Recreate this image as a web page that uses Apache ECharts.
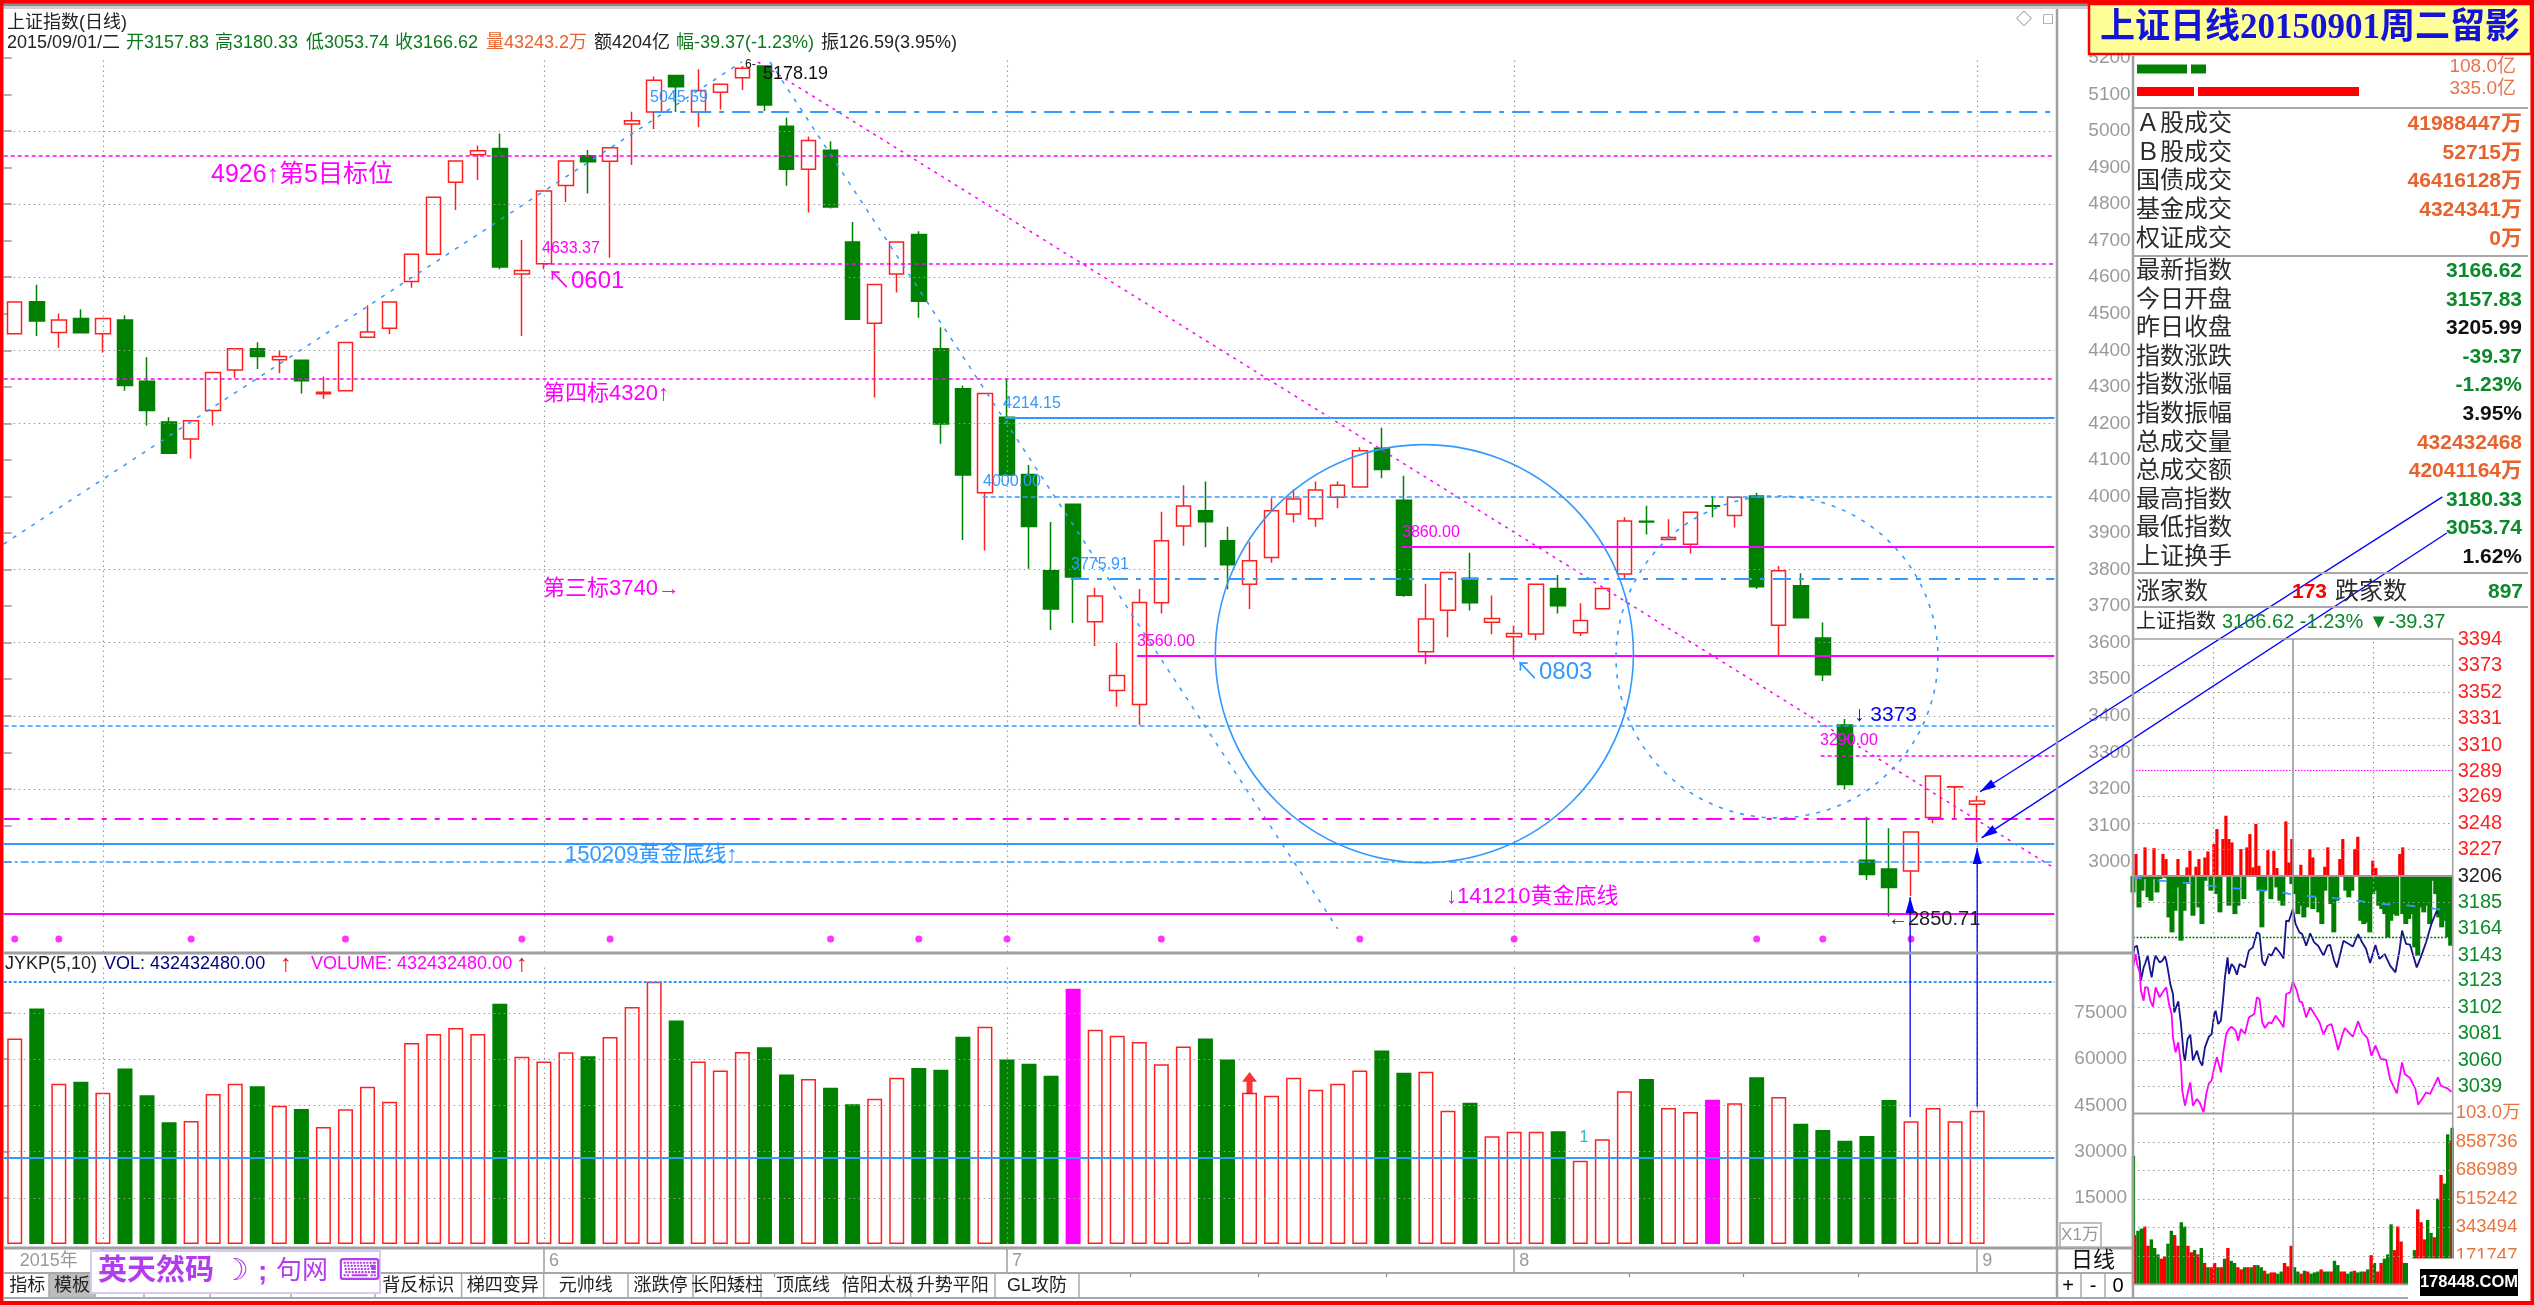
<!DOCTYPE html>
<html><head><meta charset="utf-8">
<script src="https://cdn.jsdelivr.net/npm/echarts@6/dist/echarts.min.js"></script>
<style>html,body{margin:0;padding:0;background:#fff}#c{width:2534px;height:1305px}</style>
</head><body><div id="c"></div>
<script>
// ---- daily candles, 90 sessions ----
const opens=[4445,4533,4449,4487,4445,4483,4315,4204,4157,4235,4346,4404,4374,4373,4281,4289,4436,4460,4588,4663,4860,4935,4952,4609,4637,4851,4932,4917,5019,5052,5152,5052,5106,5146,5178,5013,4895,4947,4696,4474,4609,4717,4404,4295,4010,4217,4060,3797,3979,3657,3469,3431,3709,3919,3961,3879,3760,3833,3952,3939,3998,4026,4132,3990,3575,3689,3776,3656,3616,3624,3748,3627,3693,3788,3932,3882,3869,3975,3948,4001,3648,3756,3613,3375,3005,2981,2975,3122,3205,3157.83];
const highs=[4532,4579,4501,4512,4487,4496,4381,4217,4207,4339,4404,4422,4398,4373,4328,4421,4523,4532,4663,4819,4918,4960,4993,4702,4836,4918,4948,4954,5053,5149,5152,5169,5128,5178,5178.19,5037,4985,4972,4751,4580,4696,4726,4463,4304,4282,4323,4086,3930,3979,3750,3600,3747,3958,4031,4041,3917,3876,3995,4020,4041,4041,4135,4188,4057,3761,3792,3846,3729,3646,3760,3785,3708,3748,3943,3975,3938,3957,4001,3998,4010,3810,3790,3655,3391,3124,3092,3082,3235,3206,3180.33];
const lows=[4445,4439,4407,4448,4394,4289,4194,4116,4103,4194,4325,4349,4337,4282,4267,4289,4436,4444,4571,4663,4784,4866,4622,4439,4622,4806,4829,4653,4907,5005,5052,5010,5059,5112,5055,4850,4777,4788,4485,4271,4558,4489,4144,3881,3852,4059,3802,3635,3654,3591,3425,3375,3680,3865,3861,3746,3692,3819,3929,3917,3968,4026,4050,3726,3541,3615,3688,3623,3553,3607,3680,3618,3693,3776,3896,3881,3844,3943,3915,3747,3563,3668,3495,3197,2951,2851,2907,3106,3115,3053.74];
const closes=[4532,4480,4483,4448,4487,4304,4235,4118,4207,4339,4404,4383,4383,4317,4285,4421,4450,4532,4663,4819,4918,4946,4628,4618,4836,4918,4916,4954,5028,5139,5121,5111,5128,5172,5071,4895,4974,4792,4485,4580,4696,4534,4198,4059,4282,4059,3918,3692,3780,3728,3510,3710,3879,3974,3931,3813,3824,3961,3993,4018,4031,4125,4074,3730,3665,3792,3709,3666,3625,3760,3701,3661,3748,3933,3930,3888,3957,3973,3998,3753,3797,3668,3512,3212,2966,2930,3082,3235,3206,3166.62];
const volumes=[66760,76500,52040,52700,49120,57020,48260,39490,39930,48690,52040,51180,44900,43820,37980,43710,51070,46200,65240,68170,70110,68170,78010,60810,59290,62220,60920,67190,76930,85150,72600,59290,56370,62320,63840,55070,53560,50750,45340,47180,53990,57130,56590,67300,70550,59940,58540,54640,82880,69570,67625,65570,58320,64160,66760,59940,49120,48150,53990,50100,52040,56370,62860,55610,55940,43280,45880,34950,36460,36460,36570,27050,33970,49560,53560,44150,42850,46850,45660,54100,47720,39060,37000,33540,35060,46740,39820,44150,39820,43243];
const highlightVolumeDays=[48,77];
const markerDays=[0,2,8,15,23,27,37,41,45,52,61,68,79,82,86];
const markerLevel=2789;
const categoryCount=93;

// ---- axis ticks ----
const priceLabels=[5200,5100,5000,4900,4800,4700,4600,4500,4400,4300,4200,4100,4000,3900,3800,3700,3600,3500,3400,3300,3200,3100,3000];
const priceMinorTicks=[5150,5050,4950,4850,4750,4650,4550,4450,4350,4250,4150,4050,3950,3850,3750,3650,3550,3450,3350,3250,3150,3050];
const priceGridLevels=[5000,4800,4600,4400,4200,3800,3600,3400,3200];
const volumeLabels=[15000,30000,45000,60000,75000];
const volumeMinorTicks=[7500,22500,37500,52500,67500,82500];
const monthLines=[4.5,24.5,45.5,68.5,89.5];
const timeLabels=['2015年','6','7','8','9'];
const timeLabelPlaces=[0.5,24.5,45.5,68.5,89.5];
const timeMinorTicks=[9.5,14.5,19.5,29.67,34.93,40.15,51.1,56.9,62.7,73.7,78.9,84.1];

// ---- drawn price levels ----
const levelValues=[5053,4933,4638,4321,4216,4000,3862,3776,3563,3374,3292,3119,3049,3000,2857];
const levelStarts=[29.5,0,24.5,0,45.4,44.4,63.4,48.4,51.4,0,82.4,0,0,0,0];
const levelKinds=['blueDashDot','pinkDash','pinkDash','pinkDash','blueSolid','blueDash','pinkSolid','blueDashDot','pinkSolid','blueDash','pinkDash','pinkDashDot','blueSolid','blueDotDash','pinkSolid'];
const volumeTopLevel=85150, volumeMidLevel=28020;

// ---- drawn trend lines and circles (session, price) ----
const riseLine=[[0,3870],[33.48,5189]];
const fallLine=[[34.75,5189],[60.5,2817]];
const longFallLine=[[34.2,5189],[93,2983]];
const solidCircle=[64.43,3570,9.48];
const dashedCircle=[80.42,3561,7.30];
const arrowRows=[[110.6,3999,89.63,3192],[110.8,3900,89.7,3066],[86.46,2302,86.46,2904],[89.5,2330,89.5,3038]];

// ---- intraday ----
const indexMinutes=[0,1,3,5,6,8,9,11,13,14,16,17,20,22,24,25,27,28,30,31,34,36,38,39,41,43,45,48,50,52,54,57,59,61,62,64,66,68,69,71,72,74,76,78,80,84,87,90,93,95,97,99,102,104,107,110,113,115,117,120,122,125,127,130,133,136,139,143,146,148,151,153,155,158,162,165,169,172,175,178,182,185,189,193,197,200,202,205,208,213,216,220,224,228,229];
const indexValues=[3141.5,3149.4,3150.7,3138.8,3123,3133.5,3136.2,3142.8,3130.9,3125.6,3138.8,3142.8,3137.5,3138.8,3142.3,3138.8,3126.9,3120.3,3112.4,3097.8,3106.6,3088.6,3064.7,3059.4,3076.7,3080.1,3059.4,3067.4,3059.4,3055.5,3070,3078.5,3080.6,3096.5,3099.1,3088.6,3091.2,3112.4,3125.6,3141.5,3128.3,3136.2,3133.5,3127.7,3136.2,3133.5,3146.8,3149.4,3161.3,3160,3138.8,3134.9,3144.1,3142.8,3149.4,3145.5,3140.7,3170.6,3170.1,3179.9,3168,3161.3,3160,3150.7,3160.5,3153.4,3150.7,3142.8,3150.7,3151.3,3138.8,3133.5,3141.5,3154.7,3152.1,3150,3160,3153.4,3148.1,3137,3151.3,3140.2,3144.1,3134.9,3129.6,3146.8,3162.7,3152.1,3151.5,3133.5,3141.5,3153.4,3168,3178.5,3175.9];
const shadowMinutes=[0,2,3,5,6,8,9,11,13,15,17,20,23,25,27,29,30,32,34,36,37,39,42,43,45,48,50,53,55,57,59,61,63,66,68,70,72,74,77,79,81,84,87,91,93,95,97,99,102,104,107,110,113,115,118,120,123,125,127,130,133,137,140,143,146,149,152,154,157,159,162,165,169,172,176,179,182,186,190,193,198,202,204,208,212,214,217,220,223,229,231,236,239];
const shadowValues=[3133.5,3144.1,3136.2,3129.6,3115,3107.1,3117.7,3117.7,3107.1,3102.3,3117.7,3109.7,3115,3117.7,3104.4,3096.5,3078,3066.1,3074,3056.8,3035.6,3023.7,3038.3,3042.2,3023.7,3029,3026.4,3018.4,3033,3041.5,3043.6,3054.2,3062.1,3050.2,3067.4,3080.6,3084.6,3086.4,3083.3,3075.3,3084.6,3080.6,3093.8,3096.5,3109.7,3108.4,3089.9,3085.4,3089.9,3089.1,3095.2,3091.2,3085.9,3112.4,3113.7,3122.4,3115,3106.5,3105.8,3093.8,3101.8,3095.2,3089.9,3080.1,3087.2,3088.6,3076.7,3067.9,3079.3,3085.4,3082,3078.5,3090.7,3082,3077.4,3063.4,3071.4,3060.8,3060,3044.9,3033.5,3058.1,3048.9,3045.7,3037,3024.5,3029,3034.3,3033,3046.2,3039.6,3037.5,3034.8];
const averageMinutes=[0,8,18,30,35,45,57,63,73,85,99,113,117,125,137,144,153,165,172,180,195,208,219,226,234];
const averageValues=[3205,3203.7,3202.4,3201.8,3201,3200.2,3198.4,3197.6,3196.5,3195.5,3194.4,3192.8,3191.8,3191,3189.6,3189.1,3188.3,3186.5,3186,3184.4,3183.3,3182.5,3180.9,3180.1,3179.3];
const breadthUp=[0,17.5,0,0,22.8,0,0,22.2,0,0,17.5,13.5,0,0,0,13.5,0,0,6.9,20.1,0,7.4,13.5,0,14.8,19.6,0,25.4,37.3,0,29.4,47.9,29.4,26.7,0,0,21.4,0,22.8,33.3,6.9,41.3,8.2,0,0,20.6,0,20.1,6.4,0,0,43.4,10.8,29.4,0,0,9,0,0,21.4,14.8,0,0,0,7.4,22.8,0,0,0,13.5,29.4,0,0,0,21.4,31.2,0,0,0,0,12.2,6.4,0,0,0,0,0,0,0,17.5,22.8,0,0,0,0,0,0,0,0,0,0,0,0,0,0,0,0];
const breadthDown=[13,1.6,24.9,11.6,2.4,16.9,19.6,2.4,13,2.4,0,1.6,32.8,44.7,27.5,9,51.3,27.5,5,0,31.5,0,24.9,38.1,3.7,0,11.6,0,14.3,28.8,0,0,23.5,0,30.2,23.5,0,18.3,0,0,0,0,11.6,40.7,11.6,0,18.3,0,9,19.6,23.5,0,0,6.4,14.3,30.2,23.5,32.8,24.9,0,26.2,16.9,28.8,38.1,11.6,0,22.2,44.7,19.6,0,0,11.6,16.9,11.6,0,0,35.5,38.1,36.8,44.7,14.3,11.6,23.5,26.2,30.2,48.7,35.5,30.2,31.5,0,30.2,38.1,34,30.2,56.6,63.2,24.9,28.8,23.5,38.1,3.7,14.3,32.8,40.7,35.5,48.7,55.3];
const intradayPriceLabels=[3394,3373,3352,3331,3310,3289,3269,3248,3227,3206,3185,3164,3143,3123,3102,3081,3060,3039];
const intradayVolumes=[775500,297300,323100,336100,349000,232700,271400,219700,181000,155100,168000,245600,323100,297300,232700,374800,349000,232700,193900,206800,181000,219700,129300,103400,103400,129300,103400,103400,155100,219700,142200,129300,103400,90500,103400,103400,103400,116300,116300,103400,82700,64600,72400,72400,64600,77600,129300,108600,232700,103400,77600,64600,82700,77600,64600,72400,77600,90500,77600,77600,77600,142200,116300,77600,77600,64600,77600,82700,72400,77600,77600,90500,175800,129300,77600,129300,155100,181000,361900,206800,349000,258500,129300,129300,155100,206800,452400,374800,271400,387800,310200,284400,517000,659200,607500,904800,866000,943500];
const intradayVolumeSides='GRGGRRGGGRRGGRRGGRRGRGRGRRGRGRGGRRGRGRGGRGRRGGRRRGGRGRGGGRGGRGGRRGGRGGRGRGRRGGGRRRGGGGRRRGGRGRGGR';
const intradayVolumeLabels=[1030482,858736,686989,515242,343494,171747];
const intradayRefHigh=3290, intradayRefOpen=3157.83;
const intradayVLines=[60,180];

// ---- side panel ----
const sideRows=[
 ['Ａ股成交','41988447万','o'],['Ｂ股成交','52715万','o'],['国债成交','46416128万','o'],['基金成交','4324341万','o'],['权证成交','0万','o'],
 ['最新指数','3166.62','g'],['今日开盘','3157.83','g'],['昨日收盘','3205.99','k'],['指数涨跌','-39.37','g'],['指数涨幅','-1.23%','g'],['指数振幅','3.95%','k'],
 ['总成交量','432432468','o'],['总成交额','42041164万','o'],['最高指数','3180.33','g'],['最低指数','3053.74','g'],['上证换手','1.62%','k']];
const tabNames=['指标','模板','','','','三线参考','背反标识','梯四变异','元帅线','涨跌停','长阳矮柱','顶底线','倍阳太极','升势平阳','GL攻防'];
const tabEdges=[5.6,49,95,144,210,291,375,461.6,543.7,628,693,761,845,910.6,995,1079,1144.4];

// ---- styles and layout ----
const BLUE='#3399ff',PINK='#ff00ff',RED='#ff2020',GREEN='#008000',GREY='#999999',ORANGE='#e8622c';
const SANS='"Liberation Sans","Noto Sans CJK SC",sans-serif';
const levelStyles={
 blueDashDot:{color:BLUE,width:2,type:[18,8,5,8]},
 blueDash:{color:BLUE,width:1.6,type:[5,3]},
 blueDotDash:{color:BLUE,width:1.6,type:[8,3,3,3]},
 blueSolid:{color:BLUE,width:2,type:'solid'},
 pinkDash:{color:PINK,width:1.6,type:[4,3]},
 pinkDashDot:{color:PINK,width:2,type:[16,8,5,8]},
 pinkSolid:{color:PINK,width:2,type:'solid'}};
const dotted={color:GREY,width:1.2,type:[1.5,3.5]};
const L=3.7,W=categoryCount*22.05;
const MAIN={left:L,top:57.9,width:W,height:894.1};
const VOL={left:L,top:966.8,width:W,height:277.2};
const STRIP={left:L,top:1248,width:W,height:25};
const DAY={left:2133,top:639,width:319.7,height:474.4};
const DAYV={left:2133,top:1113.4,width:319.7,height:171};
const PRICE_MIN=2753.7,PRICE_MAX=5200,VOL_MAX=90000;
const cats=Array.from({length:categoryCount},(_,i)=>String(i));
const zip=(a,b)=>a.map((v,i)=>[v,b[i]]);
const hid=(o)=>Object.assign({show:false},o);
const plain=(v)=>String(v);

const daySeries=closes.map((c,i)=>[opens[i],c,lows[i],highs[i]]);
const volumeBars=volumes.map((v,i)=>{
  const st=highlightVolumeDays.includes(i)?{color:PINK,borderColor:PINK}
    :closes[i]>=opens[i]?{color:'#fff',borderColor:RED}:{color:GREEN,borderColor:GREEN};
  return {value:v,itemStyle:Object.assign({borderWidth:1.5},st)};
});
const levelLines=levelValues.map((v,i)=>[{coord:[levelStarts[i],v],lineStyle:levelStyles[levelKinds[i]]},{coord:[categoryCount,v]}]);
const dayPitch=2.25;
const breadthRow=(arr)=>arr.map((v,i)=>[i*dayPitch,v]).filter(r=>r[1]>0);
const tickVolBars=intradayVolumes.map((v,i)=>{
  const m=i===0?0.3:i===97?239.6:1.25+2.5*(i-1);
  return {value:[m,v],itemStyle:{color:intradayVolumeSides[i]==='R'?'#ff0000':GREEN}};
});

function barRender(sign,color,bw){
  return function(params,api){
    const a=api.coord([api.value(0),3206]),b=api.coord([api.value(0),3206+sign*api.value(1)]);
    return {type:'rect',shape:{x:a[0]-bw/2,y:Math.min(a[1],b[1]),width:bw,height:Math.abs(a[1]-b[1])},style:{fill:color}};
  };
}
function circleRender(params,api){
  const c=api.coord([api.value(0),api.value(1)]),r=api.size([api.value(2),0])[0];
  const dashed=api.value(3)===1;
  return {type:'circle',shape:{cx:c[0],cy:c[1],r},style:{fill:'none',stroke:BLUE,lineWidth:1.6,lineDash:dashed?[4,7]:null}};
}
function arrowRender(params,api){
  const a=api.coord([api.value(0),api.value(1)]),b=api.coord([api.value(2),api.value(3)]);
  const ang=Math.atan2(b[1]-a[1],b[0]-a[0]),len=16,w=4.5;
  const bx=b[0]-len*Math.cos(ang),by=b[1]-len*Math.sin(ang);
  const px=-Math.sin(ang)*w,py=Math.cos(ang)*w;
  return {type:'group',children:[
    {type:'line',shape:{x1:a[0],y1:a[1],x2:b[0],y2:b[1]},style:{stroke:'#0000ff',lineWidth:1.3}},
    {type:'polygon',shape:{points:[[b[0],b[1]],[bx+px,by+py],[bx-px,by-py]]},style:{fill:'#0000ff'}}]};
}

// ---- page furniture ----
const T=(x,y,text,o)=>{o=o||{};return {type:'text',z:100,silent:true,style:{x,y,text,fill:o.c||'#000',
  font:(o.w?o.w+' ':'')+(o.s||18)+'px '+(o.f||SANS),textAlign:o.a||'left',textVerticalAlign:'middle'}};};
const R=(x,y,w,h,fill,stroke,lw)=>({type:'rect',z:100,silent:true,shape:{x,y,width:w,height:h},style:{fill:fill||'none',stroke:stroke||null,lineWidth:lw||1}});
const H=(x1,x2,y,c,lw)=>R(x1,y-(lw||2)/2,x2-x1,lw||2,c||'#a8a8a8');
const V=(x,y1,y2,c,lw)=>R(x-(lw||2)/2,y1,lw||2,y2-y1,c||'#a8a8a8');
const rowColors={o:ORANGE,g:'#0a8a2a',k:'#111'};
const furniture=[];
const add=(...e)=>furniture.push(...e);
add(R(0,3,2534,3,'#8a8a8a'),R(0,6,2534,3,'#d0d0d0'));
add(H(4,2133,953,'#a0a0a0',3),H(4,2133,1248,'#a0a0a0',3),H(4,2133,1273,'#a8a8a8',2),H(4,2530,1298,'#a8a8a8',2));
add(V(2057,9,1298,'#a0a0a0',2.5),V(2133,56,1298,'#a0a0a0',2.5));
add(H(2133,2528,108),H(2133,2528,256),H(2133,2528,573),H(2133,2528,607));
add(R(2133,639,319.7,645.4,null,'#a0a0a0',1.6),H(2133,2452.7,1113.4,'#a0a0a0',2));
add(R(2137,64.5,50,9,GREEN),R(2191,64.5,15,9,GREEN),R(2137,87,57,9,'#ff0000'),R(2198,87,161,9,'#ff0000'));
add(T(2516,67,'108.0亿',{a:'right',s:19,c:'#e8744a'}),T(2516,89,'335.0亿',{a:'right',s:19,c:'#e8744a'}));
const sideRowY=[124.5,153,181.5,210.5,239,271.5,300,328.6,357,385.7,414,443,471,500,528.6,557];
sideRows.forEach((r,i)=>{
  add(T(2136,sideRowY[i],r[0],{s:24,c:'#2a2a2a'}));
  add(T(2522,sideRowY[i],r[1],{a:'right',s:21,w:'bold',c:rowColors[r[2]]}));
});
add(T(2136,592,'涨家数',{s:24,c:'#2a2a2a'}),T(2327,592,'173',{a:'right',s:21,w:'bold',c:'#ff0000'}),T(2335,592,'跌家数',{s:24,c:'#2a2a2a'}),T(2523,592,'897',{a:'right',s:21,w:'bold',c:'#0a8a2a'}));
add(T(2136,622,'上证指数',{s:20,c:'#222'}),T(2222,622,'3166.62 -1.23% ▼-39.37',{s:20,c:'#0a8a2a'}));
// header rows
add(T(7,23,'上证指数(日线)',{s:18,c:'#222'}));
[[7,'2015/09/01/二','#222'],[126,'开3157.83','#0a7a1a'],[215,'高3180.33','#0a7a1a'],[306,'低3053.74','#0a7a1a'],[395,'收3166.62','#0a7a1a'],[486,'量43243.2万',ORANGE],[594,'额4204亿','#222'],[676,'幅-39.37(-1.23%)','#0a7a1a'],[821,'振126.59(3.95%)','#222']].forEach(r=>add(T(r[0],43,r[1],{s:18,c:r[2]})));
add(T(2024,20,'◇',{s:16,c:'#777',a:'center'}),T(2048,20,'□',{s:16,c:'#777',a:'center'}));
add(T(5,964,'JYKP(5,10)',{s:18,c:'#222'}),T(104,964,'VOL: 432432480.00',{s:18,c:'#000080'}),T(280,964,'↑',{s:24,c:'#ff0000'}),T(311,964,'VOLUME: 432432480.00',{s:18,c:PINK}),T(516,964,'↑',{s:24,c:'#ff0000'}));
// annotations
add(T(211,175,'4926↑第5目标位',{s:25,c:PINK}),T(547,281,'↖0601',{s:24,c:PINK}),T(543,394,'第四标4320↑',{s:22,c:PINK}),T(543,589,'第三标3740→',{s:22,c:PINK}));
add(T(565,854.5,'150209黄金底线↑',{s:22,c:BLUE}),T(1446,897,'↓141210黄金底线',{s:22,c:PINK}),T(1515,672,'↖0803',{s:24,c:BLUE}));
add(T(1854,715,'↓ 3373',{s:21,c:'#0000ff'}),T(1888,919,'←2850.71',{s:20,c:'#222'}),T(763,74,'5178.19',{s:18,c:'#111'}),T(745,65,'6-',{s:12,c:'#111'}));
[[650,98,'5045.59',BLUE],[542,249,'4633.37',PINK],[1003,404,'4214.15',BLUE],[983,482,'4000.00',BLUE],[1071,564.6,'3775.91',BLUE],[1137,642,'3560.00',PINK],[1402,532.7,'3860.00',PINK],[1820,741,'3290.00',PINK]].forEach(r=>add(T(r[0],r[1],r[2],{s:16,c:r[3]})));
add(T(1584,1138,'1',{s:16,c:'#20c0c0',a:'center'}));
// bottom strip cells
add(R(2060,1223,41,24,'#fff','#aaa',1.5),T(2080,1235,'X1万',{s:17,c:'#999',a:'center'}));
add(T(2093,1261,'日线',{s:22,c:'#111',a:'center'}));
add(V(2081,1273,1298,'#a8a8a8',1.5),V(2105,1273,1298,'#a8a8a8',1.5));
add(T(2068,1286,'+',{s:20,a:'center'}),T(2093,1286,'-',{s:20,a:'center'}),T(2118,1286,'0',{s:20,a:'center'}));
add(R(49,1274,46,23,'#bdbdbd'));
tabNames.forEach((n,i)=>{
  add(V(tabEdges[i+1],1273,1298,'#a8a8a8',1.5));
  if(n) add(T((tabEdges[i]+tabEdges[i+1])/2,1286,n,{s:18,c:'#222',a:'center'}));
});
// logo overlays
add(R(91,1251,289,42,'#fff','#d9c8f0',2));
add(T(98,1272,'英天然码',{s:29,w:'bold',c:'#b43cf0'}),T(222,1272,'☽',{s:30,c:'#b43cf0'}),T(258,1272,';',{s:28,w:'bold',c:'#b43cf0'}),T(276,1272,'句网',{s:26,c:'#b43cf0'}),T(338,1272,'⌨',{s:30,c:'#b43cf0',f:'"DejaVu Sans"'}));
add(R(2408,1258.5,122,42,'#fff'));
add(R(2420,1269,98,27,'#000'),T(2469,1282.5,'178448.COM',{s:16.5,w:'bold',c:'#fff',a:'center'}));
// banner
add(R(2089,4,442,50,'#ffff99','#ff0000',2.5));
add(T(2310,29,'上证日线20150901周二留影',{s:35,w:'bold',c:'#1414d8',a:'center',f:'"Liberation Serif","Noto Sans CJK SC"'}));
// page frame
add(R(0,0,2534,3.5,'#ff0000'),R(0,1301,2534,4,'#ff0000'),R(0,0,3.5,1305,'#ff0000'),R(2530.5,0,3.5,1305,'#ff0000'));

const yAxisLabel=(o)=>Object.assign({fontFamily:SANS,color:GREY,fontSize:19,align:'left',margin:31,formatter:plain},o);
const option={
 animation:false,backgroundColor:'#fff',
 grid:[MAIN,VOL,STRIP,DAY,DAYV,MAIN,VOL].map(g=>Object.assign({containLabel:false},g)),
 xAxis:[
  hid({type:'category',data:cats,gridIndex:0,boundaryGap:true}),
  hid({type:'value',gridIndex:0,min:0,max:categoryCount,position:'top'}),
  hid({type:'category',data:cats,gridIndex:1,boundaryGap:true}),
  hid({type:'value',gridIndex:1,min:0,max:categoryCount,position:'top'}),
  {type:'value',gridIndex:2,min:0,max:categoryCount,position:'top',axisLine:{show:false},splitLine:{show:false},
   axisLabel:{show:false},axisTick:{inside:true,length:4,lineStyle:{color:'#888',width:1.2},customValues:timeMinorTicks}},
  {type:'value',gridIndex:2,min:0,max:categoryCount,position:'bottom',axisLine:{show:false},splitLine:{show:false},
   axisTick:{inside:true,length:25,lineStyle:{color:'#a0a0a0',width:1.5},customValues:monthLines},
   axisLabel:{inside:true,customValues:timeLabelPlaces,margin:3,align:'left',fontSize:18,color:GREY,fontFamily:SANS,padding:[0,0,0,5],
     formatter:(v)=>timeLabels[timeLabelPlaces.indexOf(v)]||''}},
  hid({type:'value',gridIndex:3,min:0,max:240}),
  hid({type:'value',gridIndex:4,min:0,max:240}),
  hid({type:'category',data:cats,gridIndex:5}),
  hid({type:'category',data:cats,gridIndex:6})
 ],
 yAxis:[
  {type:'value',gridIndex:0,position:'right',offset:3,min:PRICE_MIN,max:PRICE_MAX,scale:true,axisLine:{show:false},splitLine:{show:false},
   axisTick:{length:8,lineStyle:{color:GREY,width:1.5},customValues:priceLabels},axisLabel:yAxisLabel({customValues:priceLabels})},
  {type:'value',gridIndex:1,position:'right',offset:3,min:0,max:VOL_MAX,axisLine:{show:false},splitLine:{show:false},
   axisTick:{length:8,lineStyle:{color:GREY,width:1.5},customValues:volumeLabels},axisLabel:yAxisLabel({margin:17,customValues:volumeLabels})},
  hid({type:'value',gridIndex:2,min:0,max:1}),
  {type:'value',gridIndex:3,position:'right',min:3017.6,max:3394.2,scale:true,axisLine:{show:false},axisTick:{show:false},splitLine:{show:false},
   axisLabel:{customValues:intradayPriceLabels,margin:5,fontSize:20,fontFamily:SANS,align:'left',formatter:plain,
     color:(v)=>v>3206?'#ff2020':v<3206?'#0a8a2a':'#222'}},
  {type:'value',gridIndex:4,position:'right',min:0,max:intradayVolumeLabels[0],axisLine:{show:false},axisTick:{show:false},splitLine:{show:false},
   axisLabel:{customValues:intradayVolumeLabels,margin:3,fontSize:18.5,fontFamily:SANS,align:'left',color:'#e8743b',
     formatter:(v)=>v>=1030000?'103.0万':String(v)}},
  {type:'value',gridIndex:5,position:'right',offset:3,min:PRICE_MIN,max:PRICE_MAX,scale:true,axisLine:{show:false},splitLine:{show:false},axisLabel:{show:false},
   axisTick:{length:4,lineStyle:{color:GREY,width:1.2},customValues:priceMinorTicks}},
  {type:'value',gridIndex:6,position:'right',offset:3,min:0,max:VOL_MAX,axisLine:{show:false},splitLine:{show:false},axisLabel:{show:false},
   axisTick:{length:4,lineStyle:{color:GREY,width:1.2},customValues:volumeMinorTicks}}
 ],
 graphic:{elements:furniture},
 series:[
  // main pane grid
  {type:'line',xAxisIndex:1,yAxisIndex:0,data:[],z:1,markLine:{silent:true,symbol:'none',label:{show:false},lineStyle:dotted,
    data:priceGridLevels.map(v=>({yAxis:v})).concat(monthLines.map(u=>({xAxis:u})))}},
  {type:'candlestick',name:'上证指数',xAxisIndex:0,yAxisIndex:0,data:daySeries,barWidth:15,z:3,
   itemStyle:{color:'#fff',color0:GREEN,borderColor:RED,borderColor0:GREEN,borderWidth:1.5}},
  {type:'line',name:'rise',xAxisIndex:1,yAxisIndex:0,data:riseLine,symbol:'none',z:4,lineStyle:{color:BLUE,width:1.5,type:[4,7]}},
  {type:'line',name:'fall',xAxisIndex:1,yAxisIndex:0,data:fallLine,symbol:'none',z:4,lineStyle:{color:BLUE,width:1.5,type:[4,7]}},
  {type:'line',name:'longFall',xAxisIndex:1,yAxisIndex:0,data:longFallLine,symbol:'none',z:4,lineStyle:{color:PINK,width:1.5,type:[3,5]}},
  {type:'line',xAxisIndex:1,yAxisIndex:0,data:[],z:5,markLine:{silent:true,symbol:'none',label:{show:false},data:levelLines}},
  {type:'custom',xAxisIndex:1,yAxisIndex:0,z:5,encode:{x:0,y:1},renderItem:circleRender,data:[solidCircle.concat(0),dashedCircle.concat(1)]},
  {type:'scatter',xAxisIndex:0,yAxisIndex:0,z:5,symbolSize:7,itemStyle:{color:PINK},data:markerDays.map(d=>[d,markerLevel])},
  {type:'custom',xAxisIndex:1,yAxisIndex:0,z:60,encode:{x:[0,2],y:[1,3]},renderItem:arrowRender,data:arrowRows},
  // volume pane
  {type:'line',xAxisIndex:3,yAxisIndex:1,data:[],z:1,markLine:{silent:true,symbol:'none',label:{show:false},lineStyle:dotted,
    data:volumeLabels.map(v=>({yAxis:v})).concat(monthLines.map(u=>({xAxis:u})))}},
  {type:'bar',name:'VOLUME',xAxisIndex:2,yAxisIndex:1,data:volumeBars,barWidth:15,z:3},
  {type:'line',xAxisIndex:3,yAxisIndex:1,data:[],z:5,markLine:{silent:true,symbol:'none',label:{show:false},
    data:[{yAxis:volumeTopLevel,lineStyle:{color:BLUE,width:2,type:[3,2]}},{yAxis:volumeMidLevel,lineStyle:{color:BLUE,width:2,type:'solid'}}]}},
  {type:'scatter',xAxisIndex:2,yAxisIndex:1,z:6,symbol:'path://M5,0 L10,7 L7,7 L7,16 L3,16 L3,7 L0,7 Z',symbolSize:[15,22],itemStyle:{color:'#ff0000'},data:[[56,52270]]},
  // intraday
  {type:'line',xAxisIndex:6,yAxisIndex:3,data:[],z:1,markLine:{silent:true,symbol:'none',label:{show:false},lineStyle:dotted,
    data:intradayPriceLabels.filter(v=>v!==3206&&v!==3394&&v!==3289&&v!==3164).map(v=>({yAxis:v}))
     .concat(intradayVLines.map(m=>({xAxis:m})))
     .concat([{yAxis:intradayRefHigh,lineStyle:{color:PINK,width:1.2,type:[1.5,1.5]}},{yAxis:intradayRefOpen,lineStyle:{color:GREEN,width:1.3,type:[2,1.5]}},
       {xAxis:120,lineStyle:{color:'#999',width:1.6,type:'solid'}},{yAxis:3206,lineStyle:{color:'#999',width:2,type:'solid'}}])}},
  {type:'custom',xAxisIndex:6,yAxisIndex:3,z:3,encode:{x:0,y:1},renderItem:barRender(1,'#ff0000',3.2),data:breadthRow(breadthUp)},
  {type:'custom',xAxisIndex:6,yAxisIndex:3,z:3,encode:{x:0,y:1},renderItem:barRender(-1,GREEN,5),data:breadthRow(breadthDown)},
  {type:'line',name:'指数',xAxisIndex:6,yAxisIndex:3,symbol:'none',z:4,data:zip(indexMinutes,indexValues),lineStyle:{color:'#14148c',width:1.8}},
  {type:'line',name:'VWAP',xAxisIndex:6,yAxisIndex:3,symbol:'none',z:4,data:zip(shadowMinutes,shadowValues),lineStyle:{color:PINK,width:1.8}},
  {type:'line',name:'均线',xAxisIndex:6,yAxisIndex:3,symbol:'none',z:5,data:zip(averageMinutes,averageValues),lineStyle:{color:BLUE,width:1.8,type:[9,16]}},
  {type:'line',xAxisIndex:7,yAxisIndex:4,data:[],z:1,markLine:{silent:true,symbol:'none',label:{show:false},lineStyle:dotted,
    data:intradayVolumeLabels.slice(1).map(v=>({yAxis:v})).concat(intradayVLines.map(m=>({xAxis:m})))
      .concat([{xAxis:120,lineStyle:{color:'#999',width:1.6,type:'solid'}}])}},
  {type:'bar',xAxisIndex:7,yAxisIndex:4,barWidth:3.4,z:3,data:tickVolBars}
 ]
};
const chart=echarts.init(document.getElementById('c'),null,{renderer:'canvas'});
chart.setOption(option);
</script></body></html>
